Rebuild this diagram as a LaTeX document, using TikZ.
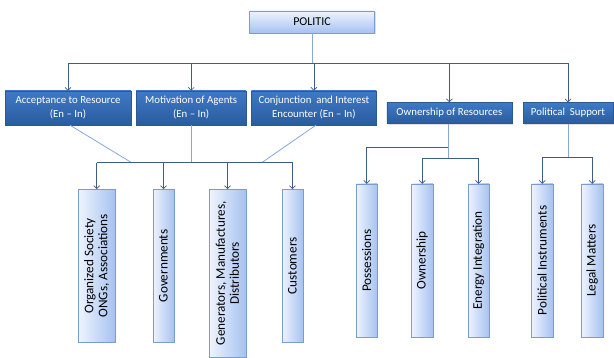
\documentclass[tikz,border=0pt]{standalone}
\usepackage{fontspec}
\setmainfont{Carlito}
\definecolor{catblue}{HTML}{3E7AC6}
\definecolor{catdark}{HTML}{2A5B9E}
\definecolor{catedge}{HTML}{2E5890}
\definecolor{paleblue}{HTML}{EEF4FE}
\definecolor{softblue}{HTML}{A6C2F0}
\definecolor{softedge}{HTML}{7B9CD0}
\definecolor{buscol}{HTML}{3E5C87}
\definecolor{feedcol}{HTML}{86A9D8}
\usetikzlibrary{arrows.meta,positioning,shadows}
\tikzset{
  headbox/.style={rectangle, draw=softedge, top color=paleblue, bottom color=softblue,
    text=black, font=\fontsize{12}{13}\selectfont, minimum width=125pt,
    minimum height=22pt, inner sep=2pt,
    drop shadow={opacity=0.25, shadow xshift=1pt, shadow yshift=-1.2pt}},
  catbox/.style={rectangle, draw=catedge, top color=catblue, bottom color=catdark,
    text=white, font=\fontsize{10.8}{14}\selectfont, align=center, inner sep=2pt,
    drop shadow={opacity=0.25, shadow xshift=1pt, shadow yshift=-1.2pt}},
  leafbox/.style={rectangle, draw=softedge, left color=paleblue, right color=softblue,
    text=black, font=\fontsize{13.2}{14}\selectfont, align=center, rotate=90,
    minimum width=153pt, minimum height=21.5pt, inner sep=1pt,
    drop shadow={opacity=0.25, shadow xshift=1pt, shadow yshift=-1.2pt}},
  busln/.style={buscol, line width=0.7pt},
  busarrow/.style={-{Straight Barb[length=3pt,width=6pt]}, buscol, line width=0.7pt},
  feed/.style={feedcol, line width=0.8pt}
}
\begin{document}
\begin{tikzpicture}[x=1pt, y=-1pt, node distance=4.8pt]
  \useasboundingbox (0,0) rectangle (614,358);
  % top
  \node[headbox] (politic) at (312,22) {POLITIC};
  % second row
  \node[catbox, minimum width=126pt, minimum height=34pt] (b1) at (68,108) {Acceptance to Resource\\(En – In)};
  \node[catbox, minimum width=110pt, minimum height=34pt, right=of b1] (b2) {Motivation of Agents\\(En – In)};
  \node[catbox, minimum width=125pt, minimum height=34pt, right=of b2] (b3) {Conjunction\ \ and Interest\\Encounter (En – In)};
  \node[catbox, minimum width=125pt, minimum height=21pt] (b4) at (449.4,113) {Ownership of Resources};
  \node[catbox, minimum width=90pt, minimum height=21pt, right=10.7pt of b4] (b5) {Political\ \ Support};
  % leaves
  \node[leafbox, minimum height=36.6pt] (l1) at (96.7,265.8) {Organized Society\\ONGs, Associations};
  \node[leafbox] (l2) at (163.5,265.8) {Governments};
  \node[leafbox, minimum height=36.4pt, minimum width=168pt] (l3) at (227.5,273.3) {Generators, Manufactures,\\Distributors};
  \node[leafbox] (l4) at (292.5,265.8) {Customers};
  \node[leafbox] (r1) at (366.7,260.5) {Possessions};
  \node[leafbox] (r2) at (422.2,260.5) {Ownership};
  \node[leafbox] (r3) at (478.5,260.5) {Energy Integration};
  \node[leafbox] (r4) at (542.2,260.5) {Political Instruments};
  \node[leafbox] (r5) at (592.2,260.5) {Legal Matters};
  % joints
  \coordinate (bus) at (0,63.3);
  \coordinate (j1) at (131.7,162.7);
  \coordinate (j3) at (261.7,162.7);
  \coordinate (k1) at (0,147.3);
  \coordinate (k2) at (0,158.3);
  \coordinate (k3) at (0,157.3);
  % politic to second row
  \draw[feed] (politic.south) -- (politic.south |- bus);
  \draw[busln] (b1.north |- bus) -- (b5.north |- bus);
  \foreach \n in {b1,b2,b3,b4,b5}
    \draw[busarrow] (\n.north |- bus) -- (\n.north);
  % agents
  \draw[feed] ([xshift=2pt]b1.south) -- (j1);
  \draw[feed] (b2.south) -- (b2.south |- j1);
  \draw[feed] ([xshift=2pt]b3.south) -- (j3);
  \draw[busln] (l1.east |- j1) -- (l4.east |- j1);
  \foreach \n in {l1,l2,l3,l4}
    \draw[busarrow] (\n.east |- j1) -- (\n.east);
  % ownership
  \draw[feed] ([xshift=-1.5pt]b4.south) -- ([xshift=-1.5pt]b4.south |- k2);
  \draw[busln] (r1.east |- k1) -- ([xshift=-1.5pt]b4.south |- k1);
  \draw[busln] (r2.east |- k2) -- (r3.east |- k2);
  \draw[busarrow] (r1.east |- k1) -- (r1.east);
  \draw[busarrow] (r2.east |- k2) -- (r2.east);
  \draw[busarrow] (r3.east |- k2) -- (r3.east);
  % support
  \draw[feed] (b5.south) -- (b5.south |- k3);
  \draw[busln] (r4.east |- k3) -- (r5.east |- k3);
  \draw[busarrow] (r4.east |- k3) -- (r4.east);
  \draw[busarrow] (r5.east |- k3) -- (r5.east);
\end{tikzpicture}
\end{document}
